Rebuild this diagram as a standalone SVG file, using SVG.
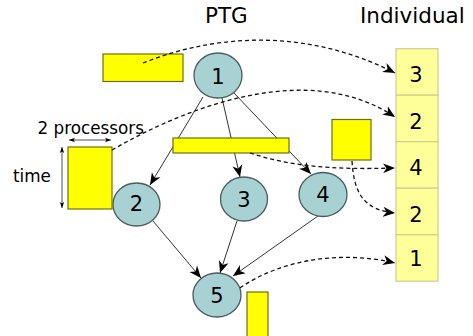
<svg xmlns="http://www.w3.org/2000/svg" width="473" height="336" viewBox="0 0 473 336">
  <defs>
    <style>
      text { font-family: "DejaVu Sans", "Liberation Sans", sans-serif; fill: #000; }
      .title { font-size: 21.5px; }
      .label { font-size: 16.8px; }
      .num { font-size: 21px; text-anchor: middle; }
      .node { fill: #a8d1d3; stroke: #4a5c5c; stroke-width: 1.3; }
      .task { fill: #ffff00; stroke: #6e6e10; stroke-width: 1.2; }
      .cell { fill: #ffff99; stroke: #cdcd95; stroke-width: 1.2; }
      .edge { fill: none; stroke: #333; stroke-width: 1; marker-end: url(#arrow); }
      .map { fill: none; stroke: #111; stroke-width: 1.3; stroke-dasharray: 4 3; marker-end: url(#arrow); }
      .dim { fill: none; stroke: #222; stroke-width: 0.8; marker-start: url(#tick); marker-end: url(#tick); }
    </style>
    <marker id="arrow" viewBox="-12 -5.5 13 11" refX="0" refY="0" markerWidth="13" markerHeight="11" markerUnits="userSpaceOnUse" orient="auto">
      <path d="M0,0 L-12,-5 L-8.5,0 L-12,5 Z" fill="#000"/>
    </marker>
    <marker id="tick" viewBox="-6 -3 7 6" refX="0" refY="0" markerWidth="7" markerHeight="6" markerUnits="userSpaceOnUse" orient="auto-start-reverse">
      <path d="M0,0 L-6,-2.2 L-4.5,0 L-6,2.2 Z" fill="#000"/>
    </marker>
  </defs>

  <!-- headings -->
  <text class="title" x="205" y="23">PTG</text>
  <text class="title" x="360" y="23">Individual</text>

  <!-- precedence edges of the task graph -->
  <g id="edges">
    <path class="edge" d="M203,97 L150,185"/>
    <path class="edge" d="M222,98 L240,177"/>
    <path class="edge" d="M234,93 L311,174"/>
    <path class="edge" d="M153,221 L201,278"/>
    <path class="edge" d="M237,221 L220,273"/>
    <path class="edge" d="M318,216 L233,276"/>
  </g>

  <!-- task nodes -->
  <g id="node1"><ellipse class="node" cx="218" cy="75.5" rx="24" ry="22.5"/><text class="num" x="218" y="83.5">1</text></g>
  <g id="node2"><ellipse class="node" cx="136.5" cy="204.5" rx="23.5" ry="21.5"/><text class="num" x="136.5" y="211">2</text></g>
  <g id="node3"><ellipse class="node" cx="244" cy="199" rx="23.5" ry="22"/><text class="num" x="244" y="206.5">3</text></g>
  <g id="node4"><ellipse class="node" cx="323" cy="194.5" rx="24" ry="22"/><text class="num" x="323" y="202">4</text></g>
  <g id="node5"><ellipse class="node" cx="217" cy="295" rx="24" ry="22"/><text class="num" x="217" y="302.5">5</text></g>

  <!-- moldable task shapes (processors x time) -->
  <g id="alloc1"><rect class="task" x="103" y="54" width="80" height="27.5"/></g>
  <g id="alloc2"><rect class="task" x="68" y="147" width="44" height="62"/></g>
  <g id="alloc3"><rect class="task" x="173" y="138" width="116" height="15"/></g>
  <g id="alloc4"><rect class="task" x="332" y="119.5" width="39" height="40.5"/></g>
  <g id="alloc5"><rect class="task" x="247" y="292" width="21" height="50"/></g>

  <!-- dimension annotations -->
  <g id="dims">
    <path class="dim" d="M69,140 L111,140"/>
    <path class="dim" d="M62,147 L62,208"/>
    <text class="label" x="37.5" y="133.5">2 processors</text>
    <text class="label" x="13" y="181.5">time</text>
  </g>

  <!-- individual: ordered list of tasks -->
  <g id="individual">
    <rect class="cell" x="396" y="48.7" width="42" height="46.5"/>
    <rect class="cell" x="396" y="95.2" width="42" height="46.5"/>
    <rect class="cell" x="396" y="141.7" width="42" height="46.5"/>
    <rect class="cell" x="396" y="188.2" width="42" height="46.5"/>
    <rect class="cell" x="396" y="234.7" width="42" height="46.5"/>
    <text class="num" x="416" y="82">3</text>
    <text class="num" x="416" y="128.5">2</text>
    <text class="num" x="416" y="175">4</text>
    <text class="num" x="416" y="221.5">2</text>
    <text class="num" x="416" y="266">1</text>
  </g>

  <!-- mapping of tasks to positions in the individual -->
  <g id="mapping">
    <path class="map" d="M143,63 C200,40 295,22 395,73"/>
    <path class="map" d="M112,150 C190,105 310,60 395,117"/>
    <path class="map" d="M250,153 C290,166 330,170 395,168"/>
    <path class="map" d="M352,161 C354,195 365,210 395,213"/>
    <path class="map" d="M240,288 C280,260 340,250 395,263"/>
  </g>
</svg>
